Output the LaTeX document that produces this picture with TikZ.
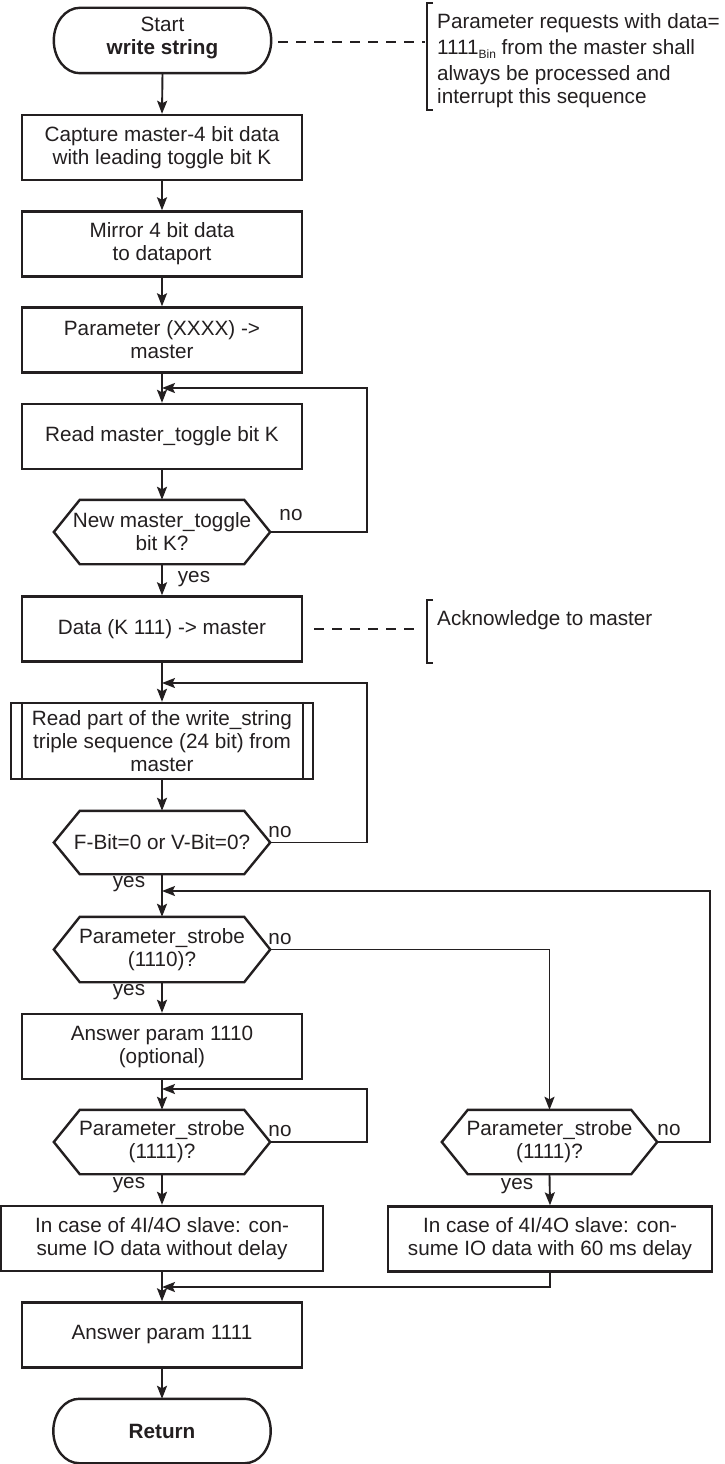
\documentclass[tikz,border=0pt]{standalone}
\usepackage{fontspec}
\setmainfont{Liberation Sans}
\usetikzlibrary{arrows.meta,calc}
\definecolor{ink}{HTML}{231F20}
\tikzset{
  base/.style={font=\fontsize{20.7}{23}\selectfont, text=ink, inner sep=0pt, align=center},
  proc/.style={base, draw=ink, line width=2.4pt, minimum width=280pt, minimum height=65pt},
  hexbox/.style={base, minimum width=216pt, minimum height=64pt},
  termbox/.style={base, minimum width=217pt, minimum height=65pt},
  lbl/.style={base},
  note/.style={base, align=left, anchor=west},
  shapeline/.style={draw=ink, line width=2.4pt},
  thinline/.style={draw=ink, line width=2pt},
  arr/.style={draw=ink, line width=1.9pt, -{Stealth[length=13pt,width=10pt,inset=2.5pt]}},
  dashline/.style={draw=ink, line width=1.9pt, dash pattern=on 10pt off 8pt},
}
\newcommand\hexoutline[1]{\draw[shapeline] (#1.west) -- ([xshift=26pt]#1.north west) -- ([xshift=-26pt]#1.north east) -- (#1.east) -- ([xshift=-26pt]#1.south east) -- ([xshift=26pt]#1.south west) -- cycle;}
\newcommand\termoutline[1]{\draw[shapeline] ([xshift=26pt]#1.north west) -- ([xshift=-26pt]#1.north east) .. controls ([xshift=-11.6pt]#1.north east) and ([yshift=18pt]#1.east) .. (#1.east) .. controls ([yshift=-18pt]#1.east) and ([xshift=-11.6pt]#1.south east) .. ([xshift=-26pt]#1.south east) -- ([xshift=26pt]#1.south west) .. controls ([xshift=11.6pt]#1.south west) and ([yshift=-18pt]#1.west) .. (#1.west) .. controls ([yshift=18pt]#1.west) and ([xshift=11.6pt]#1.north west) .. ([xshift=26pt]#1.north west) -- cycle;}
\begin{document}
\begin{tikzpicture}[x=1pt,y=-1pt]
\useasboundingbox (0,0) rectangle (724,1464);
\fill[white] (0,0) rectangle (724,1464);

% nodes
\node[termbox] (start) at (162.5,40.5) {Start\\\textbf{write string}\rule[-10pt]{0pt}{10pt}};
\termoutline{start}
\node[proc] (cap) at (162,147.5) {Capture master-4 bit data\\with leading toggle bit K};
\node[proc] (mir) at (162,244) {Mirror 4 bit data\\to dataport};
\node[proc] (par) at (162,340) {Parameter (XXXX) ->\\master};
\node[proc] (rd) at (162,436.5) {Read master\_toggle bit K};
\node[hexbox] (h1) at (162,532) {New master\_toggle\\bit K?};
\hexoutline{h1}
\node[proc] (dat) at (162,629) {Data (K 111) -> master};
\node[proc, minimum width=302pt, minimum height=76pt] (rp) at (162,741) {Read part of the write\_string\\triple sequence (24 bit) from\\master};
\draw[shapeline] ([xshift=12pt]rp.north west) -- ([xshift=12pt]rp.south west);
\draw[shapeline] ([xshift=-11pt]rp.north east) -- ([xshift=-11pt]rp.south east);
\node[hexbox, minimum height=63pt] (h2) at (162,842.5) {F-Bit=0 or V-Bit=0?};
\hexoutline{h2}
\node[hexbox, minimum height=65pt] (h3) at (162,949.5) {Parameter\_strobe\\(1110)?};
\hexoutline{h3}
\node[proc] (a10) at (162,1046.5) {Answer param 1110\\(optional)};
\node[hexbox] (h4) at (162,1142) {Parameter\_strobe\\(1111)?};
\hexoutline{h4}
\node[hexbox, minimum width=215pt] (h5) at (549.5,1142) {Parameter\_strobe\\(1111)?};
\hexoutline{h5}
\node[proc, minimum width=322pt] (lb) at (162,1238.5) {In case of 4I/4O slave: con-\\sume IO data without delay};
\node[proc, minimum width=324pt] (rb) at (550,1239) {In case of 4I/4O slave: con-\\sume IO data with 60 ms delay};
\node[proc] (a11) at (162,1335) {Answer param 1111};
\node[termbox, minimum height=64pt] (ret) at (162,1431) {\textbf{Return}};
\termoutline{ret}

% notes
\node[note] (n1) at (437,61) {Parameter requests with data=\\[3pt]1111\raisebox{-4pt}{\fontsize{12}{12}\selectfont Bin} from the master shall\\[3pt]always be processed and\\interrupt this sequence};
\draw[thinline] (433,3) -- (427,3) -- (427,110) -- (433,110);
\node[note] (n2) at (437,620) {Acknowledge to master};
\draw[thinline] (433,600) -- (427,600) -- (427,663) -- (433,663);
\coordinate (br1) at (425,42);
\coordinate (br2) at (418,629);
\draw[dashline, shorten <=7pt] (start.east |- br1) -- (br1);
\draw[dashline, shorten <=11pt] (dat.east) -- (br2);

% junctions
\coordinate (j1) at (162,388);
\coordinate (l1) at (367,388);
\coordinate (j2) at (162,683);
\coordinate (l2) at (367,683);
\coordinate (j3) at (162,891);
\coordinate (l3) at (710,891);
\coordinate (j4) at (162,1089);
\coordinate (l4) at (367,1089);
\coordinate (j5) at (162,1287);

% main flow
\draw[arr] (start.south) -- (cap.north);
\draw[arr] (cap.south) -- (mir.north);
\draw[arr] (mir.south) -- (par.north);
\draw[arr] (par.south) -- (rd.north);
\draw[arr] (rd.south) -- (h1.north);
\draw[arr] (h1.south) -- (dat.north);
\draw[arr] (dat.south) -- (rp.north);
\draw[arr] (rp.south) -- (h2.north);
\draw[arr] (h2.south) -- (h3.north);
\draw[arr] (h3.south) -- (a10.north);
\draw[arr] (a10.south) -- (h4.north);
\draw[arr] (h4.south) -- (lb.north);
\draw[arr] (lb.south) -- (a11.north);
\draw[arr] (a11.south) -- (ret.north);
\draw[arr] (h3.east) -| (h5.north);
\draw[arr] (h5.south) -- (rb.north);
\draw[arr] (rb.south) |- (j5);

% loops
\draw[arr] (h1.east) -| (l1) -- (j1);
\draw[arr] (h2.east) -| (l2) -- (j2);
\draw[arr] (h5.east) -| (l3) -- (j3);
\draw[arr] (h4.east) -| (l4) -- (j4);

% labels
\node[lbl] (no1) at (291,515) {no};
\node[lbl] (yes1) at (194,579) {yes};
\node[lbl] (no2) at (280,832) {no};
\node[lbl] (yes2) at (129,884) {yes};
\node[lbl] (no3) at (280,939) {no};
\node[lbl] (yes3) at (129,992) {yes};
\node[lbl] (no4) at (280,1131) {no};
\node[lbl] (yes4) at (129,1185) {yes};
\node[lbl] (no5) at (669,1130) {no};
\node[lbl] (yes5) at (517,1186) {yes};
\end{tikzpicture}
\end{document}
